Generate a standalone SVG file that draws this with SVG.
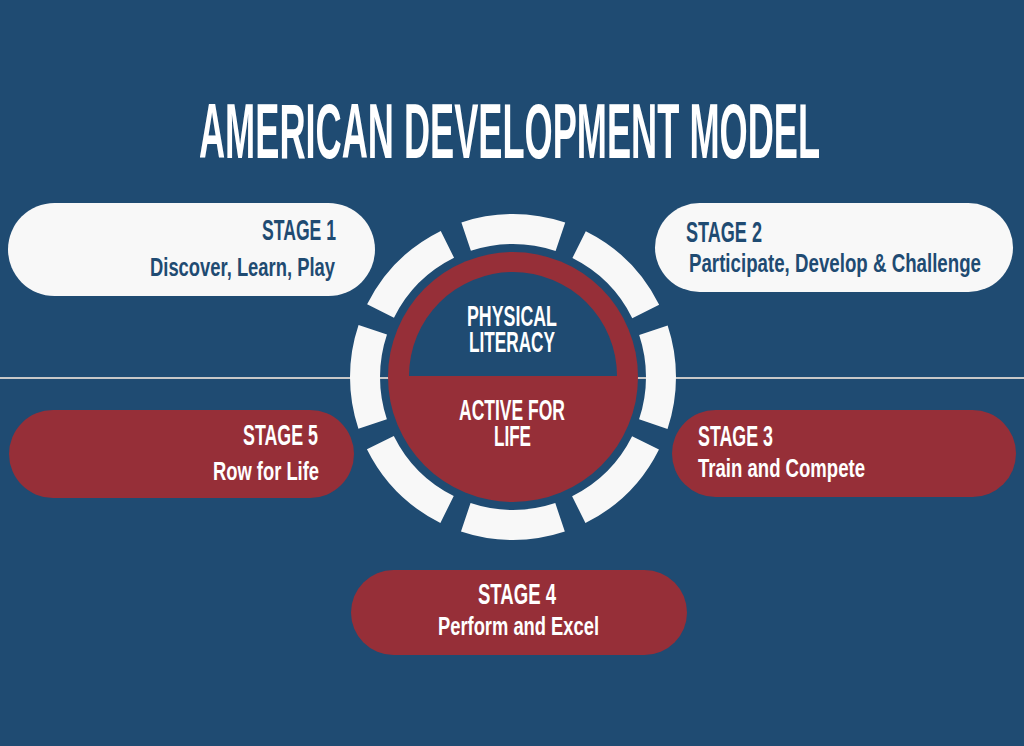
<svg xmlns="http://www.w3.org/2000/svg" width="1024" height="746" viewBox="0 0 1024 746">
<style>
text{font-family:"Liberation Sans Narrow","Liberation Sans",Arial,sans-serif;font-weight:bold}
.w{fill:#f8f8f8}
.r{fill:#962f38}
.tb{fill:#1f4b72}
.tw{fill:#ffffff}
.h{font-size:30px}
.s{font-size:26px}
.c{font-size:29px}
</style>
<rect width="1024" height="746" fill="#1f4b72"/>
<g id="connectors">
<line x1="0" y1="378" x2="1024" y2="378" stroke="#c8c8c8" stroke-width="2"/>
</g>
<g id="title">
<text class="tw" x="199" y="158" font-size="78" textLength="621" lengthAdjust="spacingAndGlyphs">AMERICAN DEVELOPMENT MODEL</text>
</g>
<g id="ring">
<circle cx="513" cy="377" r="148" fill="none" stroke="#f8f8f8" stroke-width="30" stroke-dasharray="96 20.24" stroke-dashoffset="48"/>
</g>
<g id="center">
<circle cx="513" cy="377" r="125" class="r"/>
<path d="M409,376 A104,104 0 0 1 617,376 Z" fill="#1f4b72"/>
<text class="tw c" x="467" y="326" textLength="90" lengthAdjust="spacingAndGlyphs">PHYSICAL</text>
<text class="tw c" x="469" y="352" textLength="86" lengthAdjust="spacingAndGlyphs">LITERACY</text>
<text class="tw c" x="459" y="420" textLength="106" lengthAdjust="spacingAndGlyphs">ACTIVE FOR</text>
<text class="tw c" x="494" y="446" textLength="37" lengthAdjust="spacingAndGlyphs">LIFE</text>
</g>
<g id="stage1">
<rect x="8" y="203" width="367" height="93" rx="46.5" class="w"/>
<text class="tb h" x="262" y="240" textLength="74" lengthAdjust="spacingAndGlyphs">STAGE 1</text>
<text class="tb s" x="150" y="276" textLength="185" lengthAdjust="spacingAndGlyphs">Discover, Learn, Play</text>
</g>
<g id="stage2">
<rect x="655" y="203" width="358" height="89" rx="44.5" class="w"/>
<text class="tb h" x="686" y="242" textLength="76" lengthAdjust="spacingAndGlyphs">STAGE 2</text>
<text class="tb s" x="689" y="272" textLength="292" lengthAdjust="spacingAndGlyphs">Participate, Develop &amp; Challenge</text>
</g>
<g id="stage3">
<rect x="672" y="410" width="344" height="87" rx="43.5" class="r"/>
<text class="tw h" x="698" y="446" textLength="75" lengthAdjust="spacingAndGlyphs">STAGE 3</text>
<text class="tw s" x="698" y="477" textLength="167" lengthAdjust="spacingAndGlyphs">Train and Compete</text>
</g>
<g id="stage4">
<rect x="351" y="570" width="336" height="85" rx="42.5" class="r"/>
<text class="tw h" x="478" y="604" textLength="78" lengthAdjust="spacingAndGlyphs">STAGE 4</text>
<text class="tw s" x="438" y="635" textLength="161" lengthAdjust="spacingAndGlyphs">Perform and Excel</text>
</g>
<g id="stage5">
<rect x="9" y="410" width="345" height="88" rx="44" class="r"/>
<text class="tw h" x="243" y="445" textLength="75" lengthAdjust="spacingAndGlyphs">STAGE 5</text>
<text class="tw s" x="213" y="480" textLength="106" lengthAdjust="spacingAndGlyphs">Row for Life</text>
</g>
</svg>
